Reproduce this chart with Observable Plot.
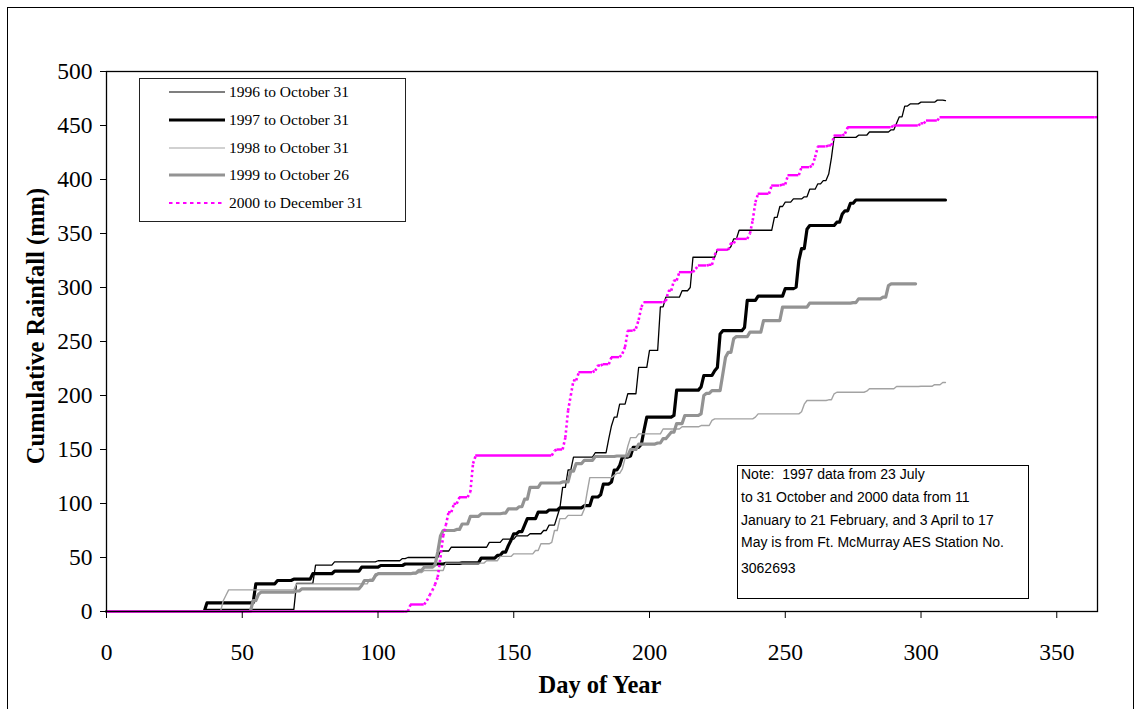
<!DOCTYPE html>
<html><head><meta charset="utf-8">
<script src="https://cdn.jsdelivr.net/npm/d3@7"></script>
<script src="https://cdn.jsdelivr.net/npm/@observablehq/plot@0.6"></script>
<style>
body{margin:0;background:#fff;}
#wrap{position:relative;width:1135px;height:709px;overflow:hidden;background:#fff;}
#wrap svg{position:absolute;left:0;top:0;}
#frame{position:absolute;left:7px;top:7px;width:1125px;height:730px;border:1px solid #000;pointer-events:none;}
#legend{position:absolute;left:139px;top:78px;width:265px;height:142px;border:1px solid #222;background:#fff;font-family:"Liberation Serif","Times New Roman",serif;font-size:15.5px;color:#000;}
#legend .row{position:absolute;left:0;height:20px;width:265px;}
#legend svg{position:absolute;left:29px;top:0;}
#legend span{position:absolute;left:89px;top:0;line-height:20px;white-space:nowrap;}
#note{position:absolute;left:737px;top:465px;width:290px;height:132px;border:1px solid #000;background:#fff;font-family:"Liberation Sans",Arial,sans-serif;font-size:14px;color:#000;}
#note div{position:absolute;left:3px;white-space:pre;line-height:16px;}
</style></head>
<body><div id="wrap"></div>
<script>
// ---------- data: change points (day of year, cumulative rainfall mm) ----------
const days1996 = [0,37,69,70,76,77,84,100,109,111,122,123,127,141,146,151,156,161,163,166,167,168,170,172,180,185,186,187,189,192,195,196,200,203,204,206,212,215,216,222,225,230,231,233,244,246,248,250,253,257,259,262,264,266,267,268,277,281,289,291,292,294,296,300,306,309];
const rain1996 = [0,2,2,26,26,43,46,47,49,50,50,56,59.5,64,67,70,72,75,80,88,96,115,131,143,147,160,172,180,192,201.6,201.6,226,241.7,241.7,282,291,297,300,328,328,335,338,345,353,353,365,375,379,382,384,391,396,399,405,420,439,441,444,446,452,458,468,470,471.6,473.5,473];

const days1997 = [0,37,54,55,63,69,76,84,94,101,110,125,131,138,144,146,148,149,150,152,154,155,159,163,167,176,179,182,183,186,187,189,190,193,194,197,198,199,209,210,219,220,224,225,226,227,235,236,240,249,250,254,255,256,258,259,269,271,272,274,276,309];
const rain1997 = [0,8,8,25.6,28.7,30,35,37.3,41,42.6,44,44.5,45,49.4,52,55,61,66,72,74,80,86,92,94,96,98,106,108,118,120,131,135,143,144,152,155,168,180,181.5,205,208,218.5,223,226,257,260,263,288,292,292,299,300.3,325,336,354,357.4,360.5,368,371,378,381,381];

const days1998 = [0,42,43,44,45,69,70,96,97,99,115,117,123,125,140,145,150,158,160,164,165,167,170,176,177,178,187,188,190,191,192,193,196,205,212,219,223,224,239,240,256,257,258,266,268,269,280,281,291,300,305,308,309];
const rain1998 = [0,0,10,15,20,20,25.6,25.6,30,35,36,38,38,44.8,47,51,53.4,56.5,62.7,64,75,86,89,95,110,124,126,128,132,142,153,161,164.5,169,171,172.2,177,178.4,180,183,185,192,195.4,196,201.6,203,204,206.2,208.3,208.5,210,212,212];

const days1999 = [0,52,54,56,57,70,72,94,95,99,100,113,115,117,121,122,123,124,129,131,134,138,146,148,152,154,156,160,168,171,173,176,180,188,193,196,203,205,207,208,210,213,219,220,221,223,227,228,229,231,232,237,242,249,259,275,277,286,288,289,298];
const rain1999 = [0,0,10,16,18,19,21,24,28.7,33,35,35.5,38,41,43,55,70,75,76,81,88,90.5,91,95,97,104,115,119,120,130,137,140,143.5,144,150,155,156,160,163,166,174,181.5,183,200,202,204.6,220,235.5,240,252.5,254.6,258.6,269.4,281.8,285.5,286,289.5,291,301.8,303.4,303.4];

const days2000 = [0,111,112,117,118,119,120,121,122,123,124,125,126,128,130,134,135,136,165,166,169,170,171,172,174,180,181,183,186,190,191,192,195,196,197,198,206,207,209,211,217,218,222,224,225,230,232,237,238,239,240,245,249,251,256,260,261,262,266,268,272,273,290,300,302,307,365];
const rain2000 = [0,0,6.5,6.5,10,15,19.4,25,31.8,50,70,80,92,99.7,105.8,110.5,137,144.4,149,150,161,186,200,214,221.6,223,227.8,229,235.5,238.6,245,260,262,270,282,286.4,287.3,297,306.5,314.2,317.3,320.4,321,330,335,341,345,350,362,379,386.8,394.4,395.4,404,411.4,413,420.6,430.6,431.5,440.7,442.3,448.4,450,452,454.6,457.7,457.7];

const seriesNames = ["1996 to October 31","1997 to October 31","1998 to October 31","1999 to October 26","2000 to December 31"];
const xTicks = [0,50,100,150,200,250,300,350];
const yTicks = [0,50,100,150,200,250,300,350,400,450,500];
const noteLines = ["Note:  1997 data from 23 July","to 31 October and 2000 data from 11","January to 21 February, and 3 April to 17","May is from Ft. McMurray AES Station No.","3062693"];

// ---------- build tables (daily values: hold, then 1-day rise) ----------
function expand(days, vals){
  const out=[];
  for(let i=0;i<days.length;i++){
    if(i>0 && days[i]-1>days[i-1]) out.push({day:days[i]-1, mm:vals[i-1]});
    out.push({day:days[i], mm:vals[i]});
  }
  return out;
}
function holdsAndRamps(days, vals){
  const holds=[], ramps=[];
  for(let i=0;i<days.length-1;i++){
    const e = Math.max(days[i+1]-1, days[i]);
    if(e>days[i]) holds.push({x1:days[i],x2:e,y:vals[i]});
    if(vals[i+1]!==vals[i]) ramps.push({x1:e,y1:vals[i],x2:days[i+1],y2:vals[i+1]});
    else if(days[i+1]>e) holds.push({x1:e,x2:days[i+1],y:vals[i]});
  }
  return {holds, ramps};
}
const s96 = expand(days1996, rain1996);
const s97 = expand(days1997, rain1997);
const s98 = expand(days1998, rain1998);
const s99 = expand(days1999, rain1999);
const hr00 = holdsAndRamps(days2000, rain2000);

const styles = [
  {stroke:"#000", strokeWidth:1.3},
  {stroke:"#000", strokeWidth:3.2},
  {stroke:"#a3a3a3", strokeWidth:1.4},
  {stroke:"#939393", strokeWidth:3.2},
  {stroke:"#ff00ff", strokeWidth:2.4, dash:"2.4,2.6"}
];

const chart = Plot.plot({
  width:1135, height:709,
  marginLeft:106, marginRight:38, marginTop:71, marginBottom:98,
  style:{fontFamily:"'Liberation Serif','Times New Roman',serif", fontSize:"23.5px", background:"transparent", color:"#000"},
  x:{domain:[0,365], ticks:xTicks},
  y:{domain:[0,500], ticks:yTicks},
  marks:[
    Plot.line(s96,{x:"day",y:"mm",stroke:styles[0].stroke,strokeWidth:styles[0].strokeWidth}),
    Plot.line(s97,{x:"day",y:"mm",stroke:styles[1].stroke,strokeWidth:styles[1].strokeWidth}),
    Plot.line(s98,{x:"day",y:"mm",stroke:styles[2].stroke,strokeWidth:styles[2].strokeWidth}),
    Plot.line(s99,{x:"day",y:"mm",stroke:styles[3].stroke,strokeWidth:styles[3].strokeWidth}),
    Plot.ruleY(hr00.holds,{y:"y",x1:"x1",x2:"x2",stroke:styles[4].stroke,strokeWidth:styles[4].strokeWidth}),
    Plot.link(hr00.ramps,{x1:"x1",y1:"y1",x2:"x2",y2:"y2",stroke:styles[4].stroke,strokeWidth:2.6,strokeDasharray:styles[4].dash}),
    Plot.frame({stroke:"#000", strokeWidth:1.3}),
    Plot.axisX({ticks:xTicks, tickSize:7, tickPadding:25, fontSize:23.5, label:null, tickFormat:d=>String(d)}),
    Plot.axisY({ticks:yTicks, tickSize:6, tickPadding:8, fontSize:23.5, label:null, tickFormat:d=>String(d)})
  ]
});
const wrap = document.getElementById("wrap");
wrap.appendChild(chart);

// axis titles
const svg = d3.select(chart);
svg.append("text").attr("x",600).attr("y",693).attr("text-anchor","middle")
  .attr("font-weight","bold").attr("font-size",24.5).attr("fill","#000").text("Day of Year");
svg.append("text").attr("transform","translate(44,326) rotate(-90)").attr("text-anchor","middle")
  .attr("font-weight","bold").attr("font-size",24.5).attr("fill","#000").text("Cumulative Rainfall (mm)");

// outer frame
const fr = document.createElement("div"); fr.id="frame"; wrap.appendChild(fr);

// legend
const leg = document.createElement("div"); leg.id="legend"; wrap.appendChild(leg);
const rowY = [3,31,59,86,114];
seriesNames.forEach((name,i)=>{
  const r = document.createElement("div"); r.className="row"; r.style.top=rowY[i]+"px";
  const st = styles[i];
  r.innerHTML = `<svg width="56" height="20"><line x1="0" x2="56" y1="10" y2="10" stroke="${st.stroke}" stroke-width="${i===4?2.2:(st.strokeWidth>2?3:1.2)}" ${st.dash?'stroke-dasharray="3.5,3.5"':''}/></svg><span>${name}</span>`;
  leg.appendChild(r);
});

// note
const note = document.createElement("div"); note.id="note"; wrap.appendChild(note);
const noteY = [0,23,46,68,94];
noteLines.forEach((t,i)=>{
  const d=document.createElement("div"); d.style.top=noteY[i]+"px"; d.textContent=t; note.appendChild(d);
});
</script>
</body></html>
